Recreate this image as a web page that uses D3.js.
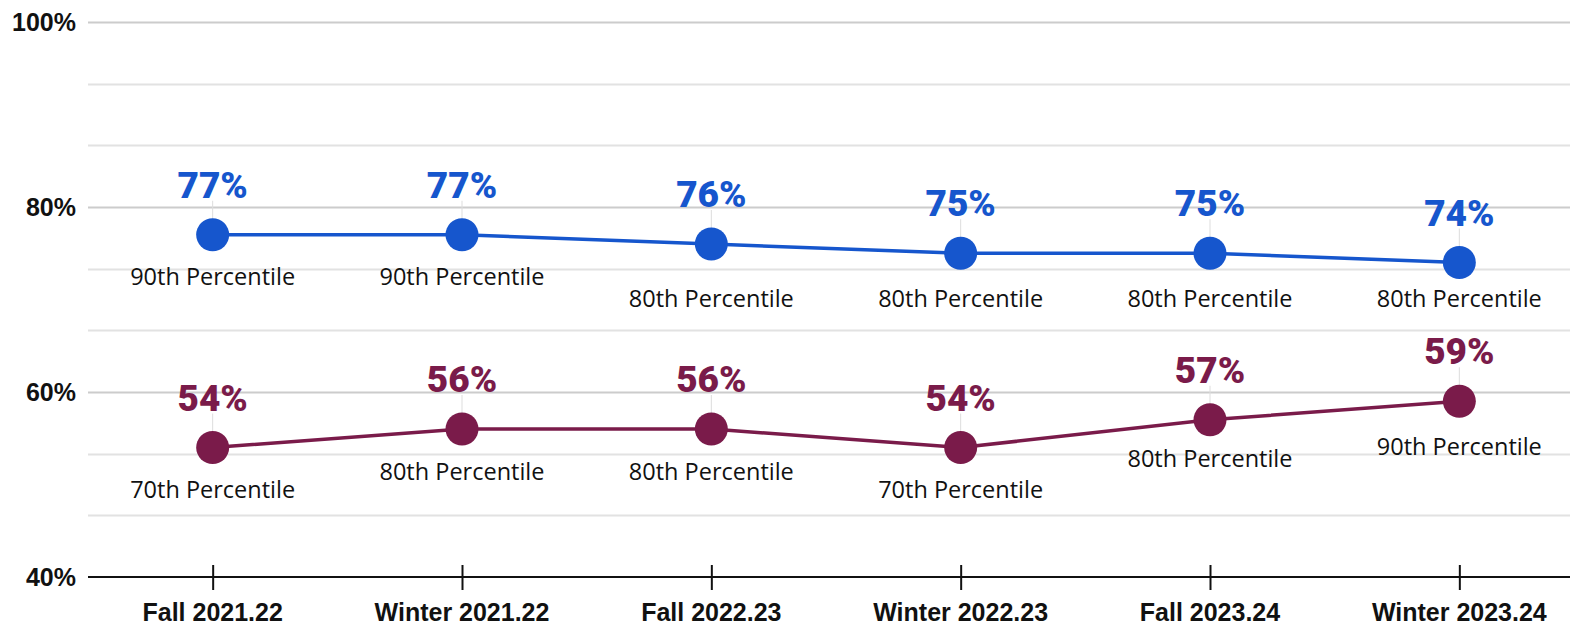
<!DOCTYPE html>
<html>
<head>
<meta charset="utf-8">
<script src="https://cdn.jsdelivr.net/npm/d3@7"></script>
<style>
  body { margin: 0; background: #fff; }
  svg { display: block; }
  .y-label { font-family: 'Liberation Sans', Arial, sans-serif; font-weight: bold; font-size: 25px; fill: #111; }
  .x-label { font-family: 'Liberation Sans', Arial, sans-serif; font-weight: bold; font-size: 25px; fill: #111; }
  .v-value { font-family: Roboto, sans-serif; font-weight: 900; font-size: 37px; }
  .v-pct { font-family: 'Open Sans', sans-serif; font-size: 23.5px; fill: #111; }
</style>
</head>
<body>
<div id="chart"></div>
<script>
// categories on the x axis
var terms = ['Fall 2021.22', 'Winter 2021.22', 'Fall 2022.23', 'Winter 2022.23', 'Fall 2023.24', 'Winter 2023.24']
// y ticks
var yTicks = [40, 60, 80, 100]
// series values (percent)
var blueValues = [77, 77, 76, 75, 75, 74]
var maroonValues = [54, 56, 56, 54, 57, 59]
// percentile notes under each point
var bluePercentiles = ['90th Percentile', '90th Percentile', '80th Percentile', '80th Percentile', '80th Percentile', '80th Percentile']
var maroonPercentiles = ['70th Percentile', '80th Percentile', '80th Percentile', '70th Percentile', '80th Percentile', '90th Percentile']

var WIDTH = 1570
var HEIGHT = 626

// label nudges (px below the point), matches hand placed notes
var blueDy = [50, 50, 63, 54, 54, 44]
var maroonDy = [50, 51, 51, 50, 47, 54]

var series = [
  { values: blueValues, notes: bluePercentiles, dy: blueDy, color: '#1656CD' },
  { values: maroonValues, notes: maroonPercentiles, dy: maroonDy, color: '#7A1B4A' }
]

var svg = d3.select('#chart').append('svg')
  .attr('width', WIDTH)
  .attr('height', HEIGHT)

var x = d3.scalePoint()
  .domain(terms)
  .range([88, 1584])
  .padding(0.5)

var y = d3.scaleLinear()
  .domain([40, 100])
  .range([577, 22])

// grid lines: majors every 20, minors at thirds
var minor = d3.range(40, 100.01, 20 / 3)
svg.append('g')
  .selectAll('line')
  .data(minor.filter(function (d) { return d > 40.5 }))
  .enter()
  .append('line')
  .attr('x1', 88)
  .attr('x2', WIDTH)
  .attr('y1', function (d) { return Math.round(y(d)) + 0.5 })
  .attr('y2', function (d) { return Math.round(y(d)) + 0.5 })
  .attr('stroke', function (d) {
    var isMajor = Math.abs(d - Math.round(d / 20) * 20) < 0.01
    return isMajor ? '#cccccc' : '#e2e2e2'
  })
  .attr('stroke-width', 2)

// y labels
svg.append('g')
  .selectAll('text')
  .data(yTicks)
  .enter()
  .append('text')
  .attr('class', 'y-label')
  .attr('x', 76)
  .attr('y', function (d) { return y(d) })
  .attr('dy', '0.36em')
  .attr('text-anchor', 'end')
  .text(function (d) { return d + '%' })

// x axis
var xAxis = d3.axisBottom(x).tickSize(0).tickFormat('')
var axisG = svg.append('g')
  .attr('transform', 'translate(0,' + y(40) + ')')
  .call(xAxis)
axisG.select('.domain').remove()
axisG.append('line')
  .attr('x1', 88)
  .attr('x2', WIDTH)
  .attr('stroke', '#111')
  .attr('stroke-width', 2)
axisG.selectAll('.tick line')
  .attr('y1', -12)
  .attr('y2', 13)
  .attr('stroke', '#111')
  .attr('stroke-width', 2)

svg.append('g')
  .selectAll('text')
  .data(terms)
  .enter()
  .append('text')
  .attr('class', 'x-label')
  .attr('x', function (d) { return x(d) })
  .attr('y', 621)
  .attr('text-anchor', 'middle')
  .text(function (d) { return d })

var line = d3.line()
  .x(function (d, i) { return x(terms[i]) })
  .y(function (d) { return y(d) })

series.forEach(function (s) {
  var g = svg.append('g')

  // faint leader from value label to the dot
  g.selectAll('line.leader')
    .data(s.values)
    .enter()
    .append('line')
    .attr('class', 'leader')
    .attr('x1', function (d, i) { return x(terms[i]) })
    .attr('x2', function (d, i) { return x(terms[i]) })
    .attr('y1', function (d) { return y(d) - 34 })
    .attr('y2', function (d) { return y(d) })
    .attr('stroke', '#dddddd')
    .attr('stroke-width', 1)

  g.append('path')
    .datum(s.values)
    .attr('d', line)
    .attr('fill', 'none')
    .attr('stroke', s.color)
    .attr('stroke-width', 3.5)

  g.selectAll('circle')
    .data(s.values)
    .enter()
    .append('circle')
    .attr('cx', function (d, i) { return x(terms[i]) })
    .attr('cy', function (d) { return y(d) })
    .attr('r', 16.5)
    .attr('fill', s.color)

  g.selectAll('text.v-value')
    .data(s.values)
    .enter()
    .append('text')
    .attr('class', 'v-value')
    .attr('x', function (d, i) { return x(terms[i]) })
    .attr('y', function (d) { return y(d) - 37 })
    .attr('text-anchor', 'middle')
    .attr('fill', s.color)
    .text(function (d) { return d + '%' })

  g.selectAll('text.v-pct')
    .data(s.notes)
    .enter()
    .append('text')
    .attr('class', 'v-pct')
    .attr('x', function (d, i) { return x(terms[i]) })
    .attr('y', function (d, i) { return y(s.values[i]) + s.dy[i] })
    .attr('text-anchor', 'middle')
    .text(function (d) { return d })
})
</script>
</body>
</html>
